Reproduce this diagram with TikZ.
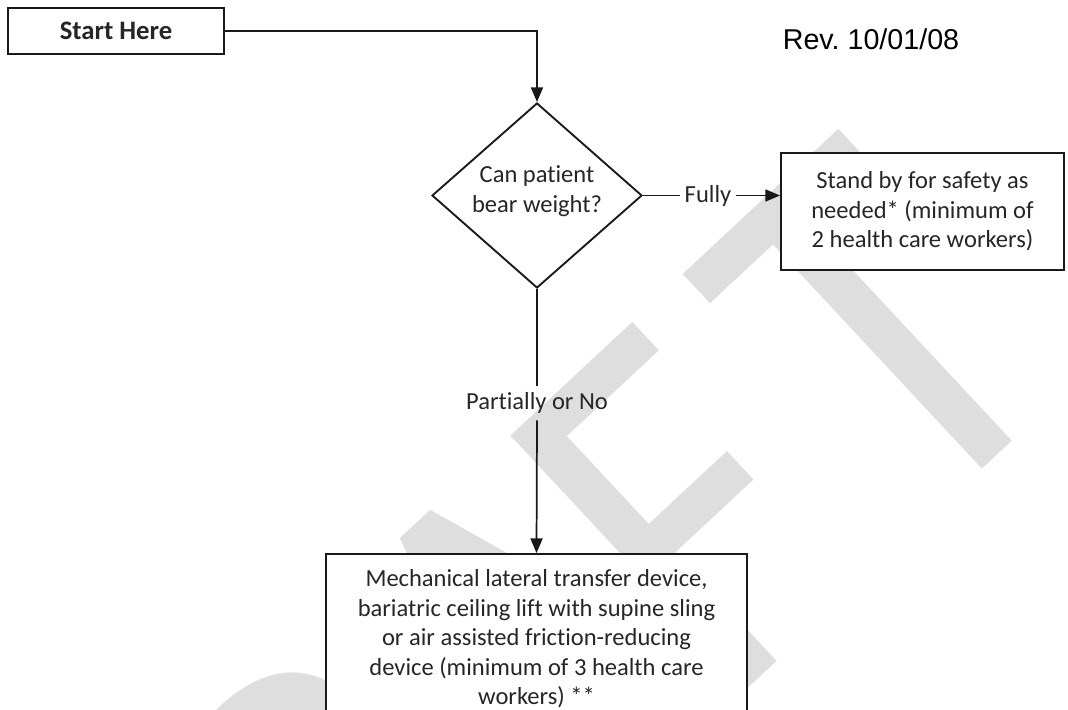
\documentclass[tikz,border=0pt]{standalone}
\usepackage{fontspec}
\setmainfont{Carlito}[Ligatures=NoCommon]
\newfontfamily\revfont{Liberation Sans}
\usetikzlibrary{arrows.meta,shapes.geometric}
\begin{document}
\begin{tikzpicture}[x=0.75pt,y=-0.75pt,
  box/.style={draw=black!90, line width=1.4pt, fill=white, inner sep=0pt, align=center,
              font=\fontsize{18.4}{22.1}\selectfont, text=black!85},
  conn/.style={draw=black!90, line width=1.3pt},
  arr/.style={conn, -{Triangle[length=11pt,width=9pt]}},
  lbl/.style={font=\fontsize{18.4}{22.1}\selectfont, text=black!85, inner sep=3pt}]
\useasboundingbox (0,0) rectangle (1068,710);
\begin{scope}
\clip (0,0) rectangle (1068,710);
% faint watermark behind the chart
\node[rotate=43, anchor=base west, text=black!13, inner sep=0pt,
      font=\fontsize{405}{405}\selectfont] (wm) at (166,1231)
  {\scalebox{0.85}[1]{DRA\kern-30pt F\kern45pt T}};

% nodes
\node[box, minimum width=162pt, minimum height=34.5pt,
      font=\bfseries\fontsize{20}{24}\selectfont] (start) at (116,31) {Start Here};
\node[font=\revfont\fontsize{21.5}{26}\selectfont, text=black, inner sep=0pt] (rev) at (871,39) {Rev.\ 10/01/08};
\node[diamond, draw=black!90, line width=1.4pt, fill=white, minimum width=157.5pt,
      minimum height=138.75pt, inner sep=0pt] (dec) at (537,195.5) {};
\node[lbl, align=center, inner sep=0pt] (dectext) at (537,191) {Can patient\\bear weight?};
\node[box, minimum width=212.25pt, minimum height=87.75pt] (stand) at (922.5,211.5)
  {Stand by for safety as\\needed* (minimum of\\2 health care workers)};
\node[box, minimum width=315.75pt, minimum height=127.5pt] (mech) at (536.5,639)
  {Mechanical lateral transfer device,\\bariatric ceiling lift with supine sling\\or air assisted friction-reducing\\device (minimum of 3 health care\\workers) **};
\node[lbl] (fully) at (708,195.5) {Fully};
\node[lbl, inner sep=5pt] (partial) at (537,403) {Partially or No};

% connectors
\draw[arr] (start.east) -| (dec.north);
\draw[conn] (dec.east) -- (fully.west);
\draw[arr] (fully.east) -- (fully.east -| stand.west);
\draw[conn] (dec.south) -- (partial.north);
\draw[arr] (partial.south) -- (mech.north);
\end{scope}
\end{tikzpicture}
\end{document}
